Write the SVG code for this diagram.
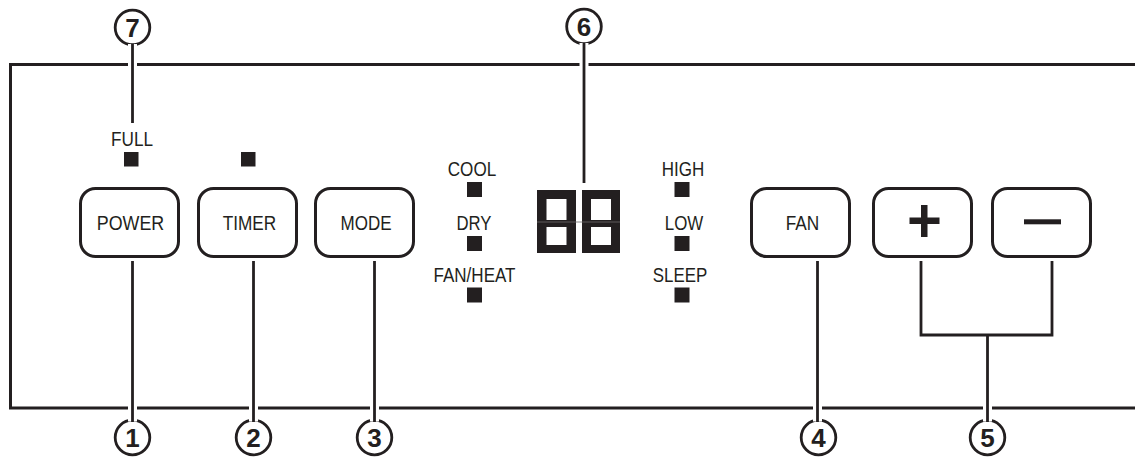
<svg xmlns="http://www.w3.org/2000/svg" width="1135" height="458" viewBox="0 0 1135 458">
<style>
.panel{fill:none;stroke:#231f20;stroke-width:3}
.btn{fill:#fff;stroke:#231f20;stroke-width:3}
.lbl{font-family:"Liberation Sans",Arial,sans-serif;font-size:21px;fill:#231f20;text-anchor:middle}
.num{font-family:"Liberation Sans",Arial,sans-serif;font-size:26px;font-weight:bold;fill:#231f20;text-anchor:middle}
.circ{fill:#fff;stroke:#231f20;stroke-width:2.8}
.halo{stroke:#fff;stroke-width:9;fill:none}
.ln{stroke:#231f20;stroke-width:2.8;fill:none}
.led{fill:#231f20}
</style>
<rect width="1135" height="458" fill="#fff"/>
<g id="panel">
<path class="panel" d="M1140,64.5 H10.5 V408 H1140"/>
</g>
<g id="display">
<path class="led" fill-rule="evenodd" d="M537,190 H576 V253 H537 Z M546.5,199 H566.5 V220 H546.5 Z M546.5,227 H566.5 V245 H546.5 Z"/>
<path class="led" fill-rule="evenodd" d="M582,190 H620 V253 H582 Z M591,199 H611 V220 H591 Z M591,227 H611 V245 H591 Z"/>
<line x1="537" y1="222" x2="620" y2="222" stroke="#6d6a6b" stroke-width="0.8"/>
</g>
<g id="indicators">
<text class="lbl" x="132" y="146" textLength="42" lengthAdjust="spacingAndGlyphs">FULL</text>
<rect class="led" x="124" y="152" width="14.5" height="14.5"/>
<rect class="led" x="241" y="152" width="14.5" height="14.5"/>
<text class="lbl" x="472" y="176" textLength="48.5" lengthAdjust="spacingAndGlyphs">COOL</text>
<rect class="led" x="467" y="182" width="15" height="15"/>
<text class="lbl" x="474" y="230" textLength="35" lengthAdjust="spacingAndGlyphs">DRY</text>
<rect class="led" x="467" y="236" width="15" height="15"/>
<text class="lbl" x="474.5" y="282" textLength="82" lengthAdjust="spacingAndGlyphs">FAN/HEAT</text>
<rect class="led" x="467" y="287.5" width="15" height="15"/>
<text class="lbl" x="683" y="176" textLength="42.5" lengthAdjust="spacingAndGlyphs">HIGH</text>
<rect class="led" x="674.5" y="182" width="15" height="15"/>
<text class="lbl" x="684" y="230" textLength="38.5" lengthAdjust="spacingAndGlyphs">LOW</text>
<rect class="led" x="674.5" y="236" width="15" height="15"/>
<text class="lbl" x="680" y="282" textLength="54.5" lengthAdjust="spacingAndGlyphs">SLEEP</text>
<rect class="led" x="674.5" y="287.5" width="15" height="15"/>
</g>
<g id="btn-power">
<rect class="btn" x="80.5" y="188.5" width="98" height="68" rx="15"/>
<text class="lbl" x="130.5" y="230" textLength="67.5" lengthAdjust="spacingAndGlyphs">POWER</text>
</g>
<g id="btn-timer">
<rect class="btn" x="198.5" y="188.5" width="98" height="68" rx="15"/>
<text class="lbl" x="249.5" y="230" textLength="53.5" lengthAdjust="spacingAndGlyphs">TIMER</text>
</g>
<g id="btn-mode">
<rect class="btn" x="315.5" y="188.5" width="98" height="68" rx="15"/>
<text class="lbl" x="366" y="230" textLength="51" lengthAdjust="spacingAndGlyphs">MODE</text>
</g>
<g id="btn-fan">
<rect class="btn" x="751.5" y="188.5" width="98" height="68" rx="15"/>
<text class="lbl" x="802.5" y="230" textLength="33.5" lengthAdjust="spacingAndGlyphs">FAN</text>
</g>
<g id="btn-plus">
<rect class="btn" x="873.5" y="188.5" width="98" height="68" rx="15"/>
<rect class="led" x="909.5" y="217.5" width="30" height="6.5"/>
<rect class="led" x="921" y="205" width="6.5" height="32"/>
</g>
<g id="btn-minus">
<rect class="btn" x="992.5" y="188.5" width="98" height="68" rx="15"/>
<rect class="led" x="1024" y="219.3" width="37" height="5"/>
</g>
<g id="callouts">
<circle class="circ" cx="132.5" cy="27.5" r="17.3"/>
<text class="num" x="132.5" y="37">7</text>
<circle class="circ" cx="584" cy="26.5" r="17.3"/>
<text class="num" x="584" y="36">6</text>
<circle class="circ" cx="132.5" cy="437.5" r="17.3"/>
<text class="num" x="132.5" y="447">1</text>
<circle class="circ" cx="253.5" cy="437.5" r="17.3"/>
<text class="num" x="253.5" y="447">2</text>
<circle class="circ" cx="374.5" cy="437.5" r="17.3"/>
<text class="num" x="374.5" y="447">3</text>
<circle class="circ" cx="818.5" cy="437.5" r="17.3"/>
<text class="num" x="818.5" y="447">4</text>
<circle class="circ" cx="987.5" cy="437.5" r="17.3"/>
<text class="num" x="987.5" y="447">5</text>
</g>
<g id="connectors">
<line class="halo" x1="132.5" y1="44" x2="132.5" y2="123"/>
<line class="ln" x1="132.5" y1="43.5" x2="132.5" y2="123"/>
<line class="halo" x1="584" y1="43" x2="584" y2="183"/>
<line class="ln" x1="584" y1="42.5" x2="584" y2="183"/>
<line class="halo" x1="132.5" y1="261" x2="132.5" y2="421.5"/>
<line class="ln" x1="132.5" y1="261" x2="132.5" y2="422"/>
<line class="halo" x1="253.5" y1="261" x2="253.5" y2="421.5"/>
<line class="ln" x1="253.5" y1="261" x2="253.5" y2="422"/>
<line class="halo" x1="374.5" y1="261" x2="374.5" y2="421.5"/>
<line class="ln" x1="374.5" y1="261" x2="374.5" y2="422"/>
<line class="halo" x1="817.5" y1="261" x2="817.5" y2="421.5"/>
<line class="ln" x1="817.5" y1="261" x2="817.5" y2="422"/>
<path class="ln" d="M921,261 V335 H1052 V261"/>
<line class="halo" x1="987.5" y1="337" x2="987.5" y2="421.5"/>
<line class="ln" x1="987.5" y1="335" x2="987.5" y2="422"/>
</g>
</svg>
